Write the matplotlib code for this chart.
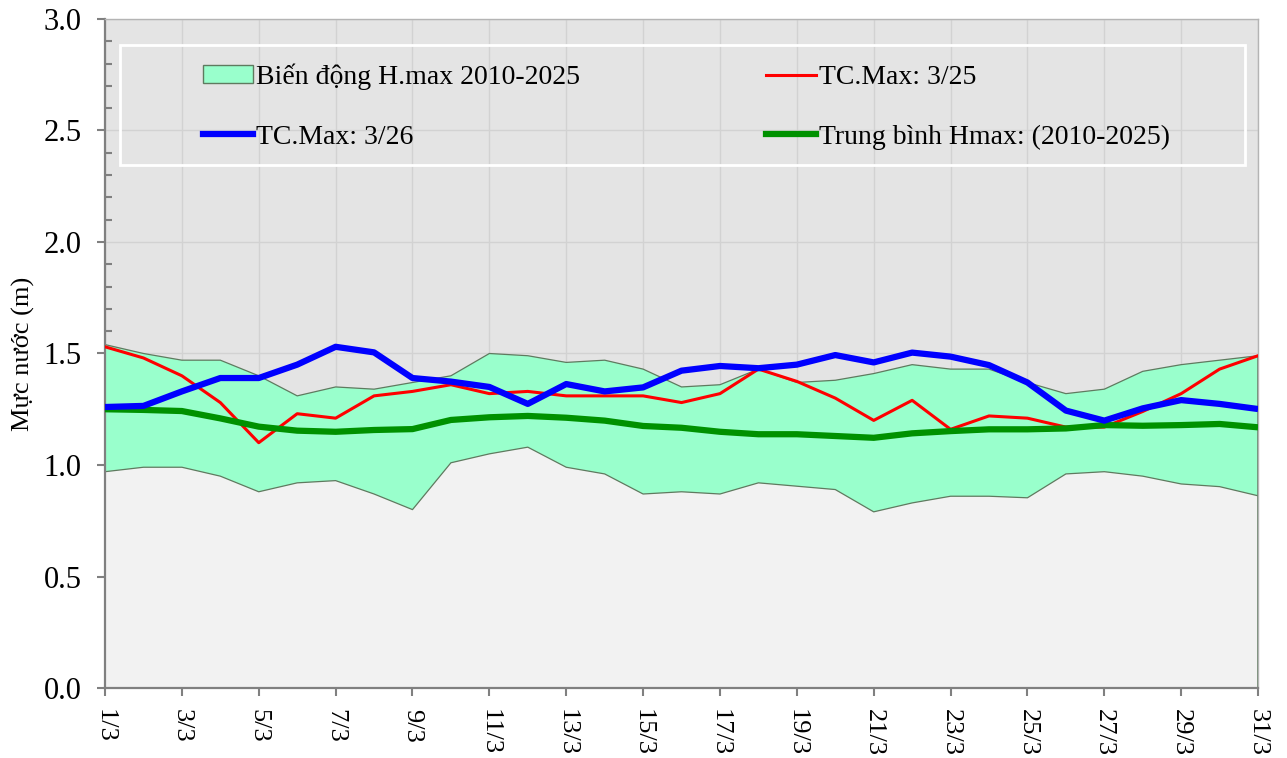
import matplotlib
matplotlib.use("Agg")
import matplotlib.pyplot as plt
from matplotlib.patches import Rectangle, Patch
from matplotlib.lines import Line2D
from matplotlib.ticker import MultipleLocator

plt.rcParams['font.family'] = ['Liberation Serif', 'DejaVu Serif']

days = list(range(1, 32))
day_labels = [f"{d}/3" for d in days]

band_upper = [1.54, 1.50, 1.47, 1.47, 1.40, 1.31, 1.35, 1.34, 1.37, 1.40,
              1.50, 1.49, 1.46, 1.47, 1.43, 1.35, 1.36, 1.43, 1.37, 1.38,
              1.41, 1.45, 1.43, 1.43, 1.37, 1.32, 1.34, 1.42, 1.45, 1.47, 1.49]
band_lower = [0.97, 0.99, 0.99, 0.95, 0.88, 0.92, 0.93, 0.87, 0.80, 1.01,
              1.05, 1.08, 0.99, 0.96, 0.87, 0.88, 0.87, 0.92, 0.905, 0.89,
              0.79, 0.83, 0.86, 0.86, 0.853, 0.96, 0.97, 0.95, 0.915, 0.903, 0.862]
tc_max_25 = [1.53, 1.48, 1.40, 1.28, 1.10, 1.23, 1.21, 1.31, 1.33, 1.36,
             1.32, 1.33, 1.31, 1.31, 1.31, 1.28, 1.32, 1.43, 1.375, 1.30,
             1.20, 1.29, 1.16, 1.22, 1.21, 1.17, 1.17, 1.24, 1.32, 1.43, 1.49]
tc_max_26 = [1.26, 1.265, 1.33, 1.39, 1.39, 1.45, 1.53, 1.505, 1.39, 1.374,
             1.35, 1.274, 1.363, 1.33, 1.348, 1.423, 1.444, 1.434, 1.45, 1.493,
             1.46, 1.504, 1.486, 1.448, 1.37, 1.244, 1.199, 1.254, 1.291, 1.274, 1.251]
avg_hmax = [1.25, 1.247, 1.242, 1.209, 1.172, 1.154, 1.149, 1.157, 1.161, 1.202,
            1.214, 1.22, 1.212, 1.199, 1.175, 1.167, 1.149, 1.138, 1.138, 1.13,
            1.122, 1.142, 1.152, 1.16, 1.16, 1.164, 1.179, 1.176, 1.179, 1.184, 1.169]

lbl_band = "Biến động H.max 2010-2025"
lbl_25 = "TC.Max: 3/25"
lbl_26 = "TC.Max: 3/26"
lbl_avg = "Trung bình Hmax: (2010-2025)"

fig = plt.figure(figsize=(12.87, 7.58), dpi=100)
ax = fig.add_axes([0.0816, 0.0923, 0.9775 - 0.0816, 0.975 - 0.0923])
ax.set_facecolor('#e4e4e4')

edge = '#5f7a5f'
ax.fill_between(days, 0, band_lower, facecolor='#f2f2f2', edgecolor='none', zorder=1)
ax.fill_between(days, band_lower, band_upper, facecolor='#99ffcc', edgecolor='none', zorder=2)
ax.plot(days, band_upper, color=edge, lw=0.9, zorder=2.1)
ax.plot(days, band_lower, color=edge, lw=0.9, zorder=2.1)
ax.vlines(days[-1], 0, band_upper[-1], color=edge, lw=1.2, zorder=2.2)

ax.plot(days, tc_max_25, color='#ff0000', lw=2.2, zorder=3)
ax.plot(days, avg_hmax, color='#009100', lw=4.5, zorder=4, solid_capstyle='butt')
ax.plot(days, tc_max_26, color='#0000ff', lw=4.5, zorder=5, solid_capstyle='butt')

ax.set_xlim(days[0], days[-1])
ax.set_ylim(0, 3)
ax.set_xticks(days[::2])
ax.set_xticklabels(day_labels[::2], rotation=-90, fontsize=19, va='top', ha='center')
ax.yaxis.set_major_locator(MultipleLocator(0.5))
ax.yaxis.set_minor_locator(MultipleLocator(0.1))
ax.yaxis.set_major_formatter(matplotlib.ticker.FormatStrFormatter('%.1f'))
ax.tick_params(axis='y', which='major', direction='out', length=6, width=1.5,
               color='#808080', labelsize=22, pad=11)
ax.tick_params(axis='y', which='minor', direction='in', length=5, width=1.5, color='#808080')
ax.tick_params(axis='x', which='major', direction='out', length=6, width=1.5,
               color='#808080', pad=9)

ax.set_axisbelow(True)
ax.grid(True, which='major', color='#d2d2d2', lw=1, zorder=0)

for s in ['left', 'bottom']:
    ax.spines[s].set_color('#808080')
    ax.spines[s].set_linewidth(1.6)
for s in ['top', 'right']:
    ax.spines[s].set_color('#b4b4b4')
    ax.spines[s].set_linewidth(1.0)

ax.set_ylabel("Mực nước (m)", fontsize=19, labelpad=6)

# legend frame
ax.add_patch(Rectangle((0.013, 0.7818), 0.9887 - 0.013, 0.9611 - 0.7818,
                       transform=ax.transAxes, facecolor='none', edgecolor='white',
                       lw=2, zorder=6))
handles = [Patch(facecolor='#99ffcc', edgecolor=edge, lw=1),
           Line2D([], [], color='#0000ff', lw=4.5),
           Line2D([], [], color='#ff0000', lw=2.2),
           Line2D([], [], color='#009100', lw=4.5)]
labels = [lbl_band, lbl_26, lbl_25, lbl_avg]
ax.legend(handles, labels, ncol=2, frameon=False, fontsize=20,
          loc='upper left', bbox_to_anchor=(0.078, 0.946),
          borderaxespad=0, borderpad=0.3, handlelength=1.8, handleheight=0.6,
          handletextpad=0.1, columnspacing=6.7, labelspacing=1.25)

fig.savefig("out.png", dpi=100)
